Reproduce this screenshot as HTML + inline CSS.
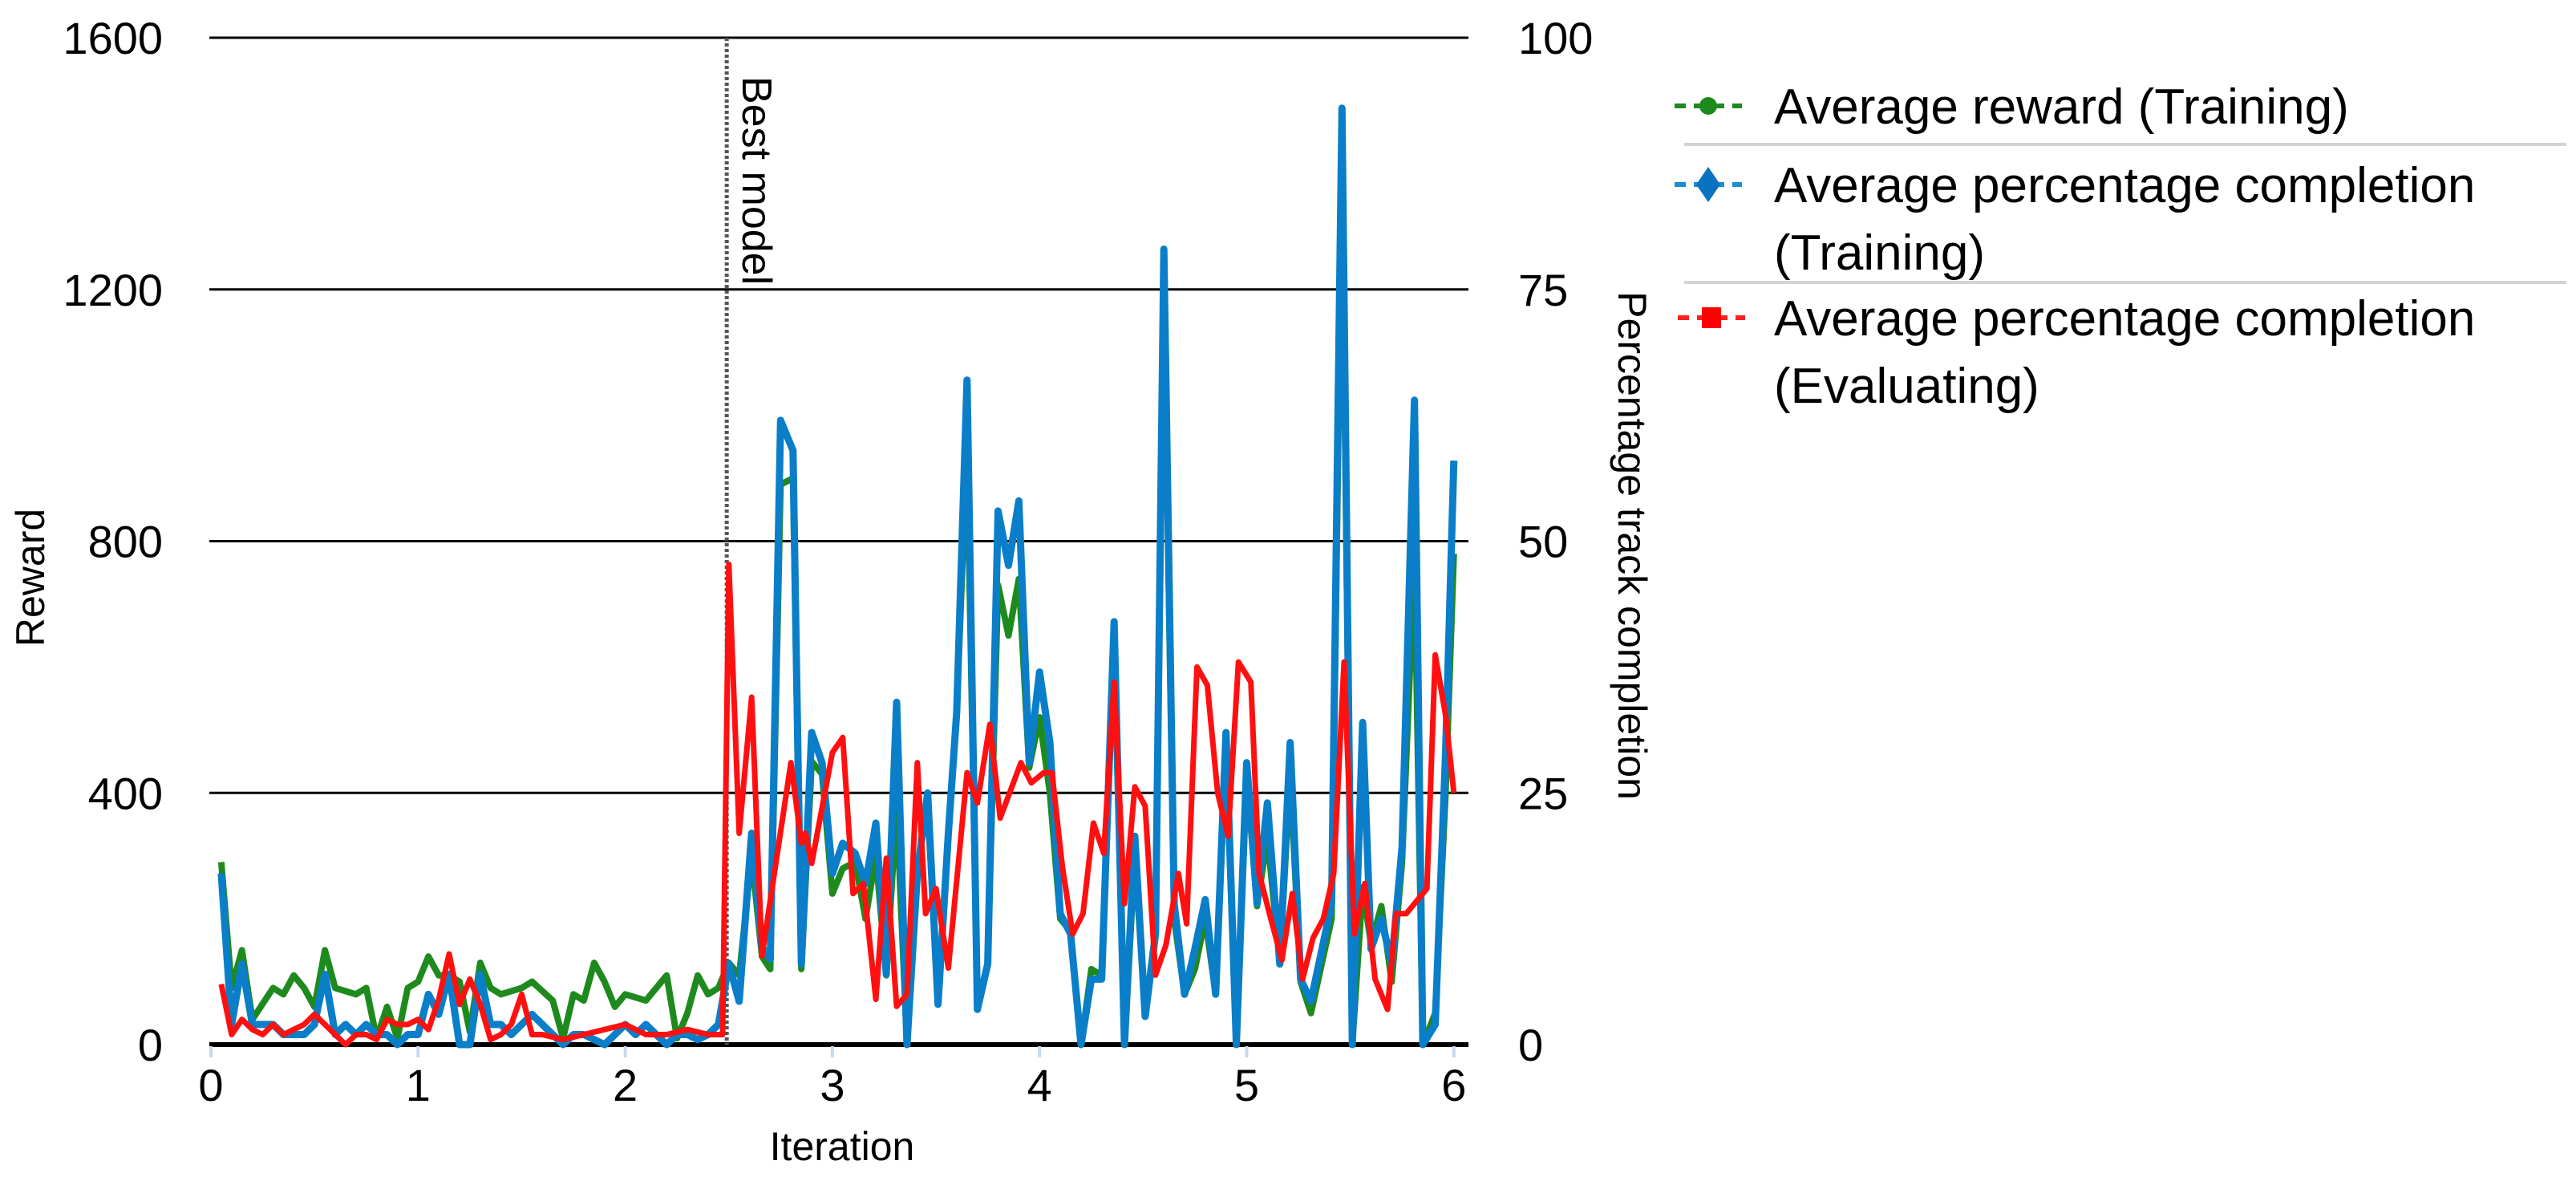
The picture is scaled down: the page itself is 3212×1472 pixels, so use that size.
<!DOCTYPE html>
<html><head><meta charset="utf-8"><style>
html,body{margin:0;padding:0;background:#fff;}
svg{display:block;font-family:"Liberation Sans",sans-serif;}
</style></head><body>
<svg id="chart" width="3212" height="1472" viewBox="0 0 3212 1472" xmlns="http://www.w3.org/2000/svg">
<g id="grid"></g>
<g id="axes"></g>
<g id="series"></g>
<text transform="translate(55,720) rotate(-90)" text-anchor="middle" font-size="50" fill="#000">Reward</text>
<text transform="translate(2018,680) rotate(90)" text-anchor="middle" font-size="50" fill="#000">Percentage track completion</text>
<text x="1050" y="1446" text-anchor="middle" font-size="50" fill="#000">Iteration</text>
<g font-size="62" fill="#000">
 <g>
  <line x1="2088" y1="132" x2="2172" y2="132" stroke="#1e8a1e" stroke-width="6" stroke-dasharray="14,10"/>
  <circle cx="2130" cy="132" r="11" fill="#1e8a1e"/>
  <text x="2212" y="154">Average reward (Training)</text>
 </g>
 <line x1="2100" y1="180" x2="3200" y2="180" stroke="#d0d4d4" stroke-width="4"/>
 <g>
  <line x1="2088" y1="230" x2="2172" y2="230" stroke="#1a8fd0" stroke-width="6" stroke-dasharray="14,10"/>
  <polygon points="2130,208 2145,230 2130,252 2115,230" fill="#0a72c0"/>
  <text x="2212" y="252">Average percentage completion</text>
  <text x="2212" y="336">(Training)</text>
 </g>
 <line x1="2100" y1="352" x2="3200" y2="352" stroke="#d0d4d4" stroke-width="4"/>
 <g>
  <line x1="2092" y1="396" x2="2176" y2="396" stroke="#ff2020" stroke-width="6" stroke-dasharray="14,10"/>
  <rect x="2122" y="383" width="24" height="26" fill="#ff0000"/>
  <text x="2212" y="418">Average percentage completion</text>
  <text x="2212" y="502">(Evaluating)</text>
 </g>
</g>
</svg>
<script>
const xTicks = [0,1,2,3,4,5,6];
const yTicks = [0,400,800,1200,1600];
const y2Ticks = [0,25,50,75,100];
const bestModelIter = 2.49;

const greenX = [0.05,0.1,0.15,0.2,0.3,0.35,0.4,0.45,0.5,0.55,0.6,0.7,0.75,0.8,0.85,0.9,0.95,1.0,1.05,1.1,1.15,1.2,1.25,1.3,1.35,1.4,1.5,1.55,1.65,1.7,1.75,1.8,1.85,1.9,1.95,2.0,2.1,2.2,2.25,2.3,2.35,2.4,2.45,2.5,2.55,2.61,2.66,2.70,2.75,2.81,2.85,2.90,2.95,3.0,3.05,3.11,3.16,3.21,3.26,3.31,3.36,3.41,3.46,3.51,3.56,3.60,3.65,3.70,3.75,3.80,3.85,3.90,3.95,4.0,4.05,4.10,4.15,4.20,4.25,4.30,4.36,4.41,4.46,4.51,4.56,4.60,4.65,4.70,4.75,4.80,4.85,4.90,4.95,5.0,5.05,5.10,5.16,5.21,5.26,5.31,5.41,5.46,5.51,5.56,5.60,5.65,5.70,5.75,5.81,5.85,5.91,5.96,6.0];
const greenReward = [290,90,150,40,90,80,110,90,60,150,90,80,90,10,60,10,90,100,140,110,110,100,20,130,90,80,90,100,70,10,80,70,130,100,60,80,70,110,10,50,110,80,90,130,110,300,140,120,890,900,120,450,430,240,280,290,200,300,110,380,0,280,380,70,340,530,950,60,130,730,650,740,440,520,400,200,180,0,120,110,640,0,300,50,180,1200,200,80,120,200,80,470,0,430,220,330,130,430,100,50,200,1380,0,250,160,220,100,290,770,0,50,400,780];

const blueX = [0.05,0.1,0.15,0.2,0.25,0.3,0.35,0.4,0.45,0.5,0.55,0.6,0.65,0.7,0.75,0.8,0.85,0.9,0.95,1.0,1.05,1.1,1.15,1.2,1.25,1.3,1.35,1.4,1.45,1.5,1.55,1.6,1.65,1.7,1.75,1.8,1.85,1.9,1.95,2.0,2.05,2.1,2.15,2.2,2.25,2.3,2.35,2.4,2.45,2.5,2.55,2.61,2.66,2.70,2.75,2.81,2.85,2.90,2.95,3.0,3.05,3.11,3.16,3.21,3.26,3.31,3.36,3.41,3.46,3.51,3.56,3.60,3.65,3.70,3.75,3.80,3.85,3.90,3.95,4.0,4.05,4.10,4.15,4.20,4.25,4.30,4.36,4.41,4.46,4.51,4.56,4.60,4.65,4.70,4.75,4.80,4.85,4.90,4.95,5.0,5.05,5.10,5.16,5.21,5.26,5.31,5.41,5.46,5.51,5.56,5.60,5.65,5.70,5.75,5.81,5.85,5.91,5.96,6.0];
const bluePct = [17,2,8,2,2,2,1,1,1,2,7,1,2,1,2,1,1,0,1,1,5,3,7,0,0,7,2,2,1,2,3,2,1,0,1,1,0.5,0,1,2,1,2,1,0,1,1,0.5,1,2,8,4.3,21,9.7,8.5,62,59,8,31,28,17,20,19,16,22,7,34,0,17,25,4,21,33,66,3.5,8,53,47.6,54,28,37,30,13,11,0,6.5,6.5,42,0,20.7,2.8,11,79,14,5,9.5,14.4,5,31,0,28,14,24,8,30,6.5,4.3,14,93,0,32,9.5,12.5,8,19.6,64,0,2,29,58];

const redX = [0.05,0.1,0.15,0.2,0.25,0.3,0.35,0.4,0.45,0.5,0.55,0.6,0.65,0.7,0.75,0.8,0.85,0.9,0.95,1.0,1.05,1.1,1.15,1.2,1.25,1.3,1.35,1.4,1.45,1.5,1.55,1.6,1.7,1.8,1.9,2.0,2.1,2.2,2.3,2.4,2.47,2.50,2.55,2.61,2.66,2.80,2.85,2.87,2.90,3.0,3.05,3.10,3.15,3.21,3.26,3.31,3.36,3.41,3.45,3.50,3.56,3.65,3.70,3.76,3.81,3.91,3.96,4.02,4.06,4.11,4.16,4.21,4.26,4.31,4.36,4.41,4.46,4.51,4.56,4.61,4.67,4.71,4.76,4.81,4.86,4.91,4.96,5.02,5.06,5.11,5.17,5.22,5.27,5.32,5.37,5.42,5.47,5.52,5.57,5.62,5.68,5.72,5.77,5.87,5.91,5.96,6.0];
const redPct = [6,1,2.5,1.5,1,2,1,1.5,2,3,2,1,0,1,1,0.5,2.5,2,2,2.5,1.5,4.5,9,4,6.5,4,0.5,1,2,5,1,1,0.5,1,1.5,2,1,1,1.5,1,1,47.7,21,34.5,8.8,28,20,21,18,29,30.5,15,16,4.5,18.5,3.8,5,28,13,15.5,7.6,27,24,31.8,22.5,28,26,27,27,17.7,11,13,22,19,36,14,25.6,23.7,6.9,9.9,17,12,37.5,35.7,25,20.7,38,36,17,13,8.4,15,6.5,10.6,12.5,17,38,11,16,6.5,3.5,13,13,15.5,38.7,32.7,25];

const NS = "http://www.w3.org/2000/svg";
const X0 = 263, XPER = 258.3, YB = 1302, YT = 47, XL = 261, XR = 1831;
function xs(i){ return X0 + i*XPER; }
function ys(r){ return YB - (r/1600)*(YB-YT); }
function ys2(p){ return YB - (p/100)*(YB-YT); }
function mk(tag, attrs, parent){ const e=document.createElementNS(NS,tag); for(const k in attrs) e.setAttribute(k, attrs[k]); parent.appendChild(e); return e; }

const grid = document.getElementById('grid');
const axes = document.getElementById('axes');
const series = document.getElementById('series');

yTicks.forEach(function(v){
  const l = mk('line',{x1:XL,x2:XR,y1:ys(v),y2:ys(v),stroke:'#000','stroke-width':v===0?6:3},grid);
  
  
  const t = mk('text',{x:203,y:ys(v)+20,'text-anchor':'end','font-size':56,fill:'#000'},axes);
  t.textContent = String(v);
  
  
});
y2Ticks.forEach(function(v){
  const t = mk('text',{x:1893,y:ys2(v)+20,'text-anchor':'start','font-size':56,fill:'#000'},axes);
  t.textContent = String(v);
  
  
});
xTicks.forEach(function(v){
  const tk = mk('line',{x1:xs(v),x2:xs(v),y1:YB+2,y2:YB+16,stroke:'#c8d8f0','stroke-width':4},axes);
  
  
  const t = mk('text',{x:xs(v),y:1372,'text-anchor':'middle','font-size':56,fill:'#000'},axes);
  t.textContent = String(v);
  
  
});

const bm = mk('line',{x1:xs(bestModelIter),x2:xs(bestModelIter),y1:YT,y2:YB,stroke:'#555','stroke-width':5,'stroke-dasharray':'4,3'},axes);


const bmt = mk('text',{transform:'translate('+(xs(bestModelIter)+20)+',95) rotate(90)','font-size':52,fill:'#000'},axes);
bmt.textContent = 'Best model';



function path(xsArr, vals, yf, color, name, w){
  let d = '';
  for(let k=0;k<xsArr.length;k++){ d += (k?'L':'M') + xs(xsArr[k]).toFixed(1) + ',' + yf(vals[k]).toFixed(1); }
  const p = mk('path',{d:d,fill:'none',stroke:color,'stroke-width':w,'stroke-linejoin':'round'},series);
  
  
}
path(greenX, greenReward, ys, '#1e8a1e', 'series-average-reward-training', 8);
path(blueX, bluePct, ys2, '#0a7ec8', 'series-pct-completion-training', 9);
path(redX, redPct, ys2, '#ff1010', 'series-pct-completion-evaluating', 7);
</script>
</body></html>
